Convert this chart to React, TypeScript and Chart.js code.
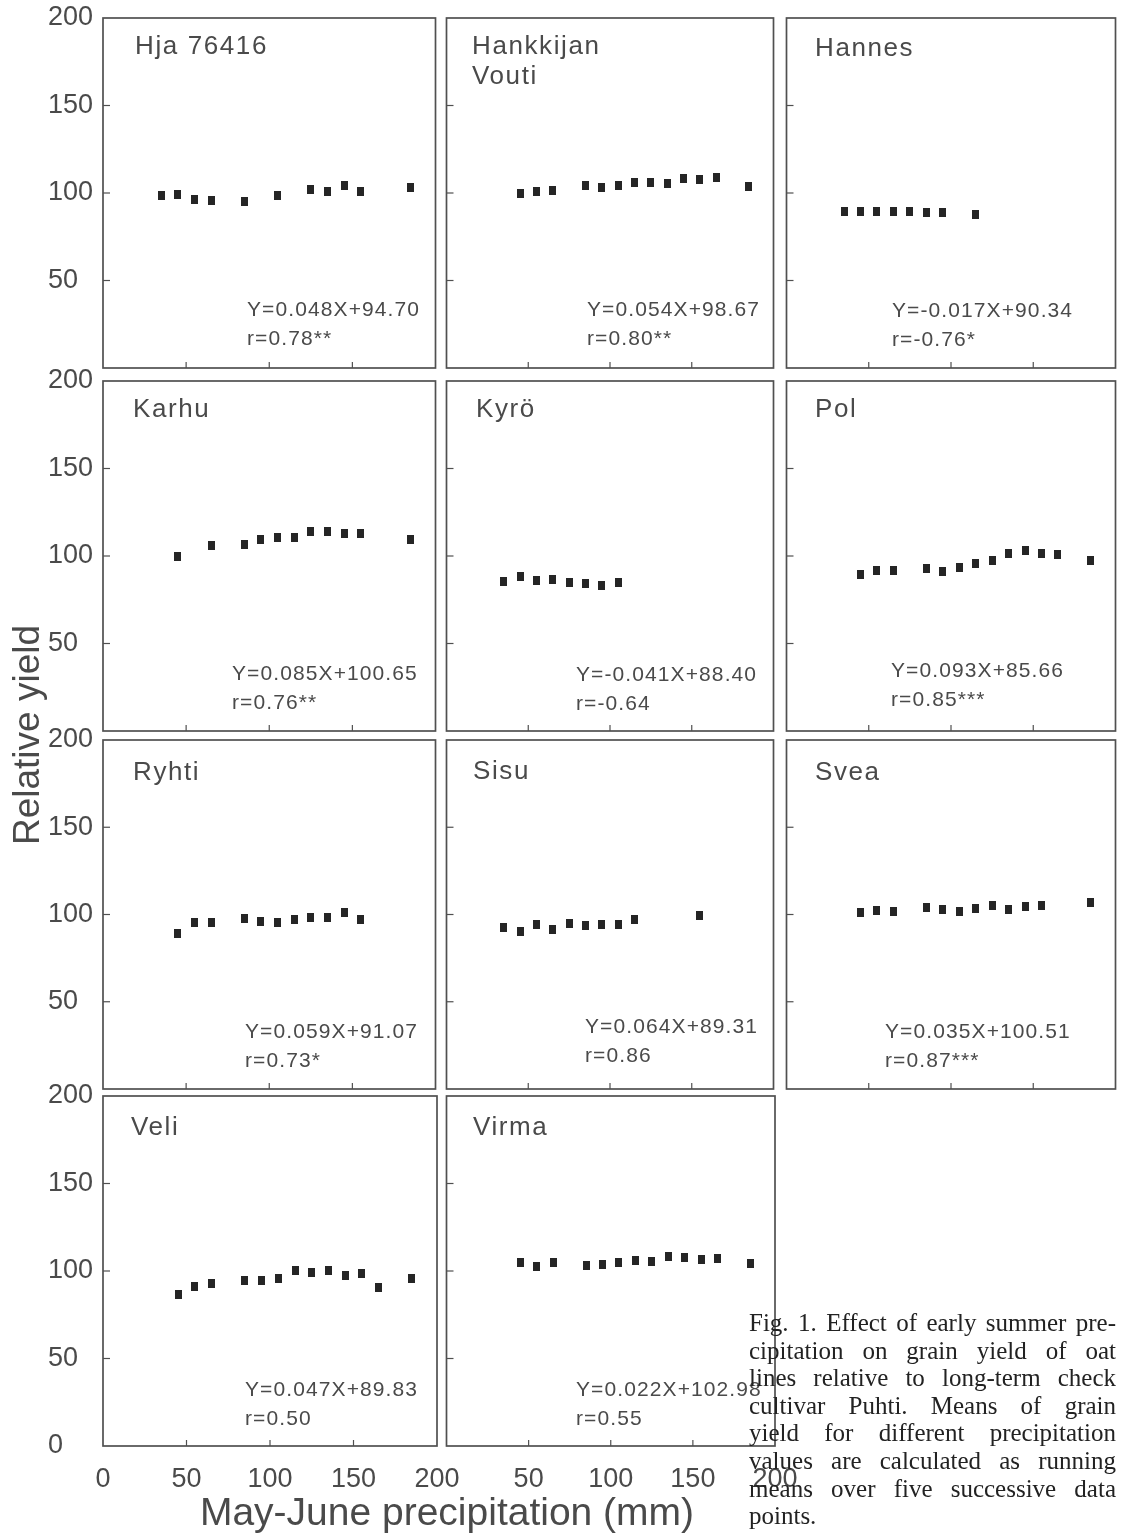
import React, { useEffect, useRef } from "react";
import { Chart, registerables } from "chart.js";

Chart.register(...registerables);

// ---------------- data ----------------
const X_MIN = 0;
const X_MAX = 200;
const X_STEP = 50;
const Y_MIN = 0;
const Y_MAX = 200;
const Y_STEP = 50;

const hjaPrecip = [35, 45, 55, 65, 85, 105, 125, 135, 145, 155, 185];
const hjaYield = [98.6, 98.9, 96.4, 95.8, 95.2, 98.5, 102.2, 100.7, 104.1, 100.9, 103.4];

const voutiPrecip = [45, 55, 65, 85, 95, 105, 115, 125, 135, 145, 155, 165, 185];
const voutiYield = [99.7, 100.8, 101.7, 104.2, 103.1, 104.2, 106.2, 106.2, 105.5, 108.5, 107.6, 108.8, 103.8];

const hannesPrecip = [35, 45, 55, 65, 75, 85, 95, 115];
const hannesYield = [89.2, 89.6, 89.4, 89.4, 89.4, 88.9, 88.6, 87.9];

const karhuPrecip = [45, 65, 85, 95, 105, 115, 125, 135, 145, 155, 185];
const karhuYield = [99.6, 105.9, 106.3, 109.3, 110.6, 110.6, 113.8, 114.2, 112.7, 112.7, 109.7];

const kyroPrecip = [35, 45, 55, 65, 75, 85, 95, 105];
const kyroYield = [85.4, 88.5, 86.2, 86.8, 84.8, 84.3, 83.4, 85.1];

const polPrecip = [45, 55, 65, 85, 95, 105, 115, 125, 135, 145, 155, 165, 185];
const polYield = [89.6, 91.9, 91.5, 92.6, 91.3, 93.4, 96.0, 97.7, 101.4, 103.1, 101.4, 100.6, 97.6];

const ryhtiPrecip = [45, 55, 65, 85, 95, 105, 115, 125, 135, 145, 155];
const ryhtiYield = [89.2, 95.6, 95.5, 97.9, 96.0, 95.6, 97.2, 98.3, 98.3, 101.0, 97.0];

const sisuPrecip = [35, 45, 55, 65, 75, 85, 95, 105, 115, 155];
const sisuYield = [92.8, 90.5, 94.1, 91.3, 94.9, 93.9, 94.1, 94.3, 97.3, 99.2];

const sveaPrecip = [45, 55, 65, 85, 95, 105, 115, 125, 135, 145, 155, 185];
const sveaYield = [101.3, 102.3, 101.7, 103.8, 102.6, 101.9, 103.4, 105.1, 103.0, 104.7, 105.3, 106.6];

const veliPrecip = [45, 55, 65, 85, 95, 105, 115, 125, 135, 145, 155, 165, 185];
const veliYield = [86.4, 90.9, 93.0, 94.5, 94.5, 95.6, 100.2, 99.3, 100.4, 97.3, 98.5, 90.3, 95.5];

const virmaPrecip = [45, 55, 65, 85, 95, 105, 115, 125, 135, 145, 155, 165, 185];
const virmaYield = [104.7, 102.7, 105.1, 103.2, 103.8, 105.1, 106.1, 105.5, 108.1, 108.0, 106.3, 107.2, 104.4];

const cultivarNames = [
  ["Hja 76416"],
  ["Hankkijan", "Vouti"],
  ["Hannes"],
  ["Karhu"],
  ["Kyrö"],
  ["Pol"],
  ["Ryhti"],
  ["Sisu"],
  ["Svea"],
  ["Veli"],
  ["Virma"],
];
const equations = [
  "Y=0.048X+94.70",
  "Y=0.054X+98.67",
  "Y=-0.017X+90.34",
  "Y=0.085X+100.65",
  "Y=-0.041X+88.40",
  "Y=0.093X+85.66",
  "Y=0.059X+91.07",
  "Y=0.064X+89.31",
  "Y=0.035X+100.51",
  "Y=0.047X+89.83",
  "Y=0.022X+102.98",
];
const correlations = [
  "r=0.78**",
  "r=0.80**",
  "r=-0.76*",
  "r=0.76**",
  "r=-0.64",
  "r=0.85***",
  "r=0.73*",
  "r=0.86",
  "r=0.87***",
  "r=0.50",
  "r=0.55",
];
const precipSeries = [
  hjaPrecip, voutiPrecip, hannesPrecip, karhuPrecip, kyroPrecip, polPrecip,
  ryhtiPrecip, sisuPrecip, sveaPrecip, veliPrecip, virmaPrecip,
];
const yieldSeries = [
  hjaYield, voutiYield, hannesYield, karhuYield, kyroYield, polYield,
  ryhtiYield, sisuYield, sveaYield, veliYield, virmaYield,
];

const xAxisTitle = "May-June precipitation (mm)";
const yAxisTitle = "Relative yield";
const captionLines = [
  "Fig. 1. Effect of early summer pre-",
  "cipitation on grain yield of oat",
  "lines relative to long-term check",
  "cultivar Puhti. Means of grain",
  "yield for different precipitation",
  "values are calculated as running",
  "means over five successive data",
  "points.",
];

// ---------------- layout ----------------
const COL_LEFT = [103, 445, 785];
const COL_RIGHT = [437, 775, 1117];
const ROW_TOP = [18, 381, 740, 1096];
const ROW_BOTTOM = [368, 731, 1089, 1446];

// name position (left, center y), equation position (left, center y)
const PANEL_LAYOUT = [
  { col: 0, row: 0, name: [135, 45], eq: [247, 308] },
  { col: 1, row: 0, name: [472, 45], eq: [587, 308] },
  { col: 2, row: 0, name: [815, 47], eq: [892, 309] },
  { col: 0, row: 1, name: [133, 408], eq: [232, 672] },
  { col: 1, row: 1, name: [476, 408], eq: [576, 673] },
  { col: 2, row: 1, name: [815, 408], eq: [891, 669] },
  { col: 0, row: 2, name: [133, 771], eq: [245, 1030] },
  { col: 1, row: 2, name: [473, 770], eq: [585, 1025] },
  { col: 2, row: 2, name: [815, 771], eq: [885, 1030] },
  { col: 0, row: 3, name: [131, 1126], eq: [245, 1388] },
  { col: 1, row: 3, name: [473, 1126], eq: [576, 1388] },
];

const SANS = "'Liberation Sans', Arial, Helvetica, sans-serif";
const SERIF = "'Liberation Serif', 'Times New Roman', serif";
const TEXT_GRAY = "#4a4a4a";
const FRAME_COLOR = "#505050";

const framePlugin = {
  id: "frame",
  afterDraw(chart: any) {
    const { ctx, chartArea: a, scales } = chart;
    ctx.save();
    ctx.strokeStyle = FRAME_COLOR;
    ctx.lineWidth = 1.7;
    ctx.strokeRect(a.left, a.top, a.right - a.left, a.bottom - a.top);
    ctx.lineWidth = 1.2;
    for (const t of scales.y.ticks) {
      if (t.value > Y_MIN && t.value < Y_MAX) {
        const y = scales.y.getPixelForValue(t.value);
        ctx.beginPath();
        ctx.moveTo(a.left, y);
        ctx.lineTo(a.left + 7, y);
        ctx.stroke();
      }
    }
    for (const t of scales.x.ticks) {
      if (t.value > X_MIN && t.value < X_MAX) {
        const x = scales.x.getPixelForValue(t.value);
        ctx.beginPath();
        ctx.moveTo(x, a.bottom);
        ctx.lineTo(x, a.bottom - 6);
        ctx.stroke();
      }
    }
    ctx.restore();
  },
};

function Panel({ index }: { index: number }) {
  const ref = useRef<HTMLCanvasElement>(null);
  const { col, row } = PANEL_LAYOUT[index];
  const left = COL_LEFT[col];
  const right = COL_RIGHT[col];
  const top = ROW_TOP[row];
  const bottom = ROW_BOTTOM[row];
  const firstCol = col === 0;
  const bottomRow = row === 3;
  const padL = firstCol ? 63 : 4;
  const padT = 16;
  const padR = bottomRow ? 30 : 4;
  const padB = bottomRow ? 50 : 16;
  const W = right - left + padL + padR;
  const H = bottom - top + padT + padB;

  useEffect(() => {
    const marker = document.createElement("canvas");
    marker.width = 7;
    marker.height = 9;
    const mctx = marker.getContext("2d")!;
    mctx.fillStyle = "#252525";
    mctx.fillRect(0, 0, 7, 9);

    const xs = precipSeries[index];
    const ys = yieldSeries[index];
    const chart = new Chart(ref.current!, {
      type: "scatter",
      data: {
        datasets: [
          {
            data: xs.map((x, i) => ({ x, y: ys[i] })),
            pointStyle: marker as any,
            pointRadius: 4.5,
            showLine: false,
          },
        ],
      },
      options: {
        animation: false,
        responsive: false,
        devicePixelRatio: 1,
        layout: { padding: { left: firstCol ? 8 : 4, top: padT, right: padR, bottom: 0 } },
        plugins: { legend: { display: false }, tooltip: { enabled: false } },
        scales: {
          x: {
            type: "linear",
            position: "bottom",
            min: X_MIN,
            max: X_MAX,
            grid: { display: false },
            border: { display: false },
            ticks: {
              display: bottomRow,
              stepSize: X_STEP,
              padding: 9,
              maxRotation: 0,
              autoSkip: false,
              color: TEXT_GRAY,
              font: { family: SANS, size: 27 },
              callback: (v: any) => (col > 0 && v === X_MIN ? "" : String(v)),
            },
            afterFit: (s: any) => {
              s.height = padB;
              s.paddingLeft = 0;
              s.paddingRight = 0;
            },
          },
          y: {
            type: "linear",
            min: Y_MIN,
            max: Y_MAX,
            grid: { display: false },
            border: { display: false },
            ticks: {
              display: firstCol,
              stepSize: Y_STEP,
              padding: 6,
              crossAlign: "far",
              color: TEXT_GRAY,
              font: { family: SANS, size: 27 },
              callback: (v: any) => (row < 3 && v === Y_MIN ? "" : String(v)),
            },
            afterFit: (s: any) => {
              s.width = firstCol ? 55 : 0;
              s.paddingTop = 0;
              s.paddingBottom = 0;
            },
          },
        },
      } as any,
      plugins: [framePlugin],
    });
    return () => chart.destroy();
  }, []);

  return (
    <canvas
      ref={ref}
      width={W}
      height={H}
      style={{ position: "absolute", left: left - padL, top: top - padT, width: W, height: H }}
    />
  );
}

function PanelTexts({ index }: { index: number }) {
  const lay = PANEL_LAYOUT[index];
  const nameLH = 30;
  const eqLH = 29;
  return (
    <>
      <div
        style={{
          position: "absolute",
          left: lay.name[0],
          top: lay.name[1] - nameLH / 2,
          fontFamily: SANS,
          fontSize: 26,
          lineHeight: `${nameLH}px`,
          letterSpacing: "1.6px",
          color: TEXT_GRAY,
          whiteSpace: "nowrap",
        }}
      >
        {cultivarNames[index].map((n, i) => (
          <div key={i}>{n}</div>
        ))}
      </div>
      <div
        style={{
          position: "absolute",
          left: lay.eq[0],
          top: lay.eq[1] - eqLH / 2,
          fontFamily: SANS,
          fontSize: 21,
          lineHeight: `${eqLH}px`,
          letterSpacing: "1.1px",
          color: TEXT_GRAY,
          whiteSpace: "nowrap",
        }}
      >
        <div>{equations[index]}</div>
        <div>{correlations[index]}</div>
      </div>
    </>
  );
}

export default function App() {
  return (
    <div
      style={{
        position: "absolute",
        left: 0,
        top: 0,
        width: 1127,
        height: 1533,
        background: "#fff",
        overflow: "hidden",
      }}
    >
      {PANEL_LAYOUT.map((_, i) => (
        <Panel key={`p${i}`} index={i} />
      ))}
      {PANEL_LAYOUT.map((_, i) => (
        <PanelTexts key={`t${i}`} index={i} />
      ))}
      <div
        style={{
          position: "absolute",
          left: 27 - 200,
          top: 735 - 22,
          width: 400,
          height: 44,
          lineHeight: "44px",
          textAlign: "center",
          transform: "rotate(-90deg)",
          fontFamily: SANS,
          fontSize: 37,
          color: TEXT_GRAY,
          whiteSpace: "nowrap",
        }}
      >
        {yAxisTitle}
      </div>
      <div
        style={{
          position: "absolute",
          left: 447 - 300,
          top: 1512 - 23,
          width: 600,
          height: 46,
          lineHeight: "46px",
          textAlign: "center",
          fontFamily: SANS,
          fontSize: 39,
          color: TEXT_GRAY,
          whiteSpace: "nowrap",
        }}
      >
        {xAxisTitle}
      </div>
      <div
        style={{
          position: "absolute",
          left: 749,
          top: 1309,
          width: 367,
          fontFamily: SERIF,
          fontSize: 25,
          lineHeight: "27.6px",
          color: "#222",
        }}
      >
        {captionLines.map((line, i) => (
          <div
            key={i}
            style={{
              whiteSpace: "nowrap",
              height: 27.6,
              textAlign: i < captionLines.length - 1 ? "justify" : "left",
              textAlignLast: i < captionLines.length - 1 ? "justify" : "left",
            }}
          >
            {line}
          </div>
        ))}
      </div>
    </div>
  );
}
